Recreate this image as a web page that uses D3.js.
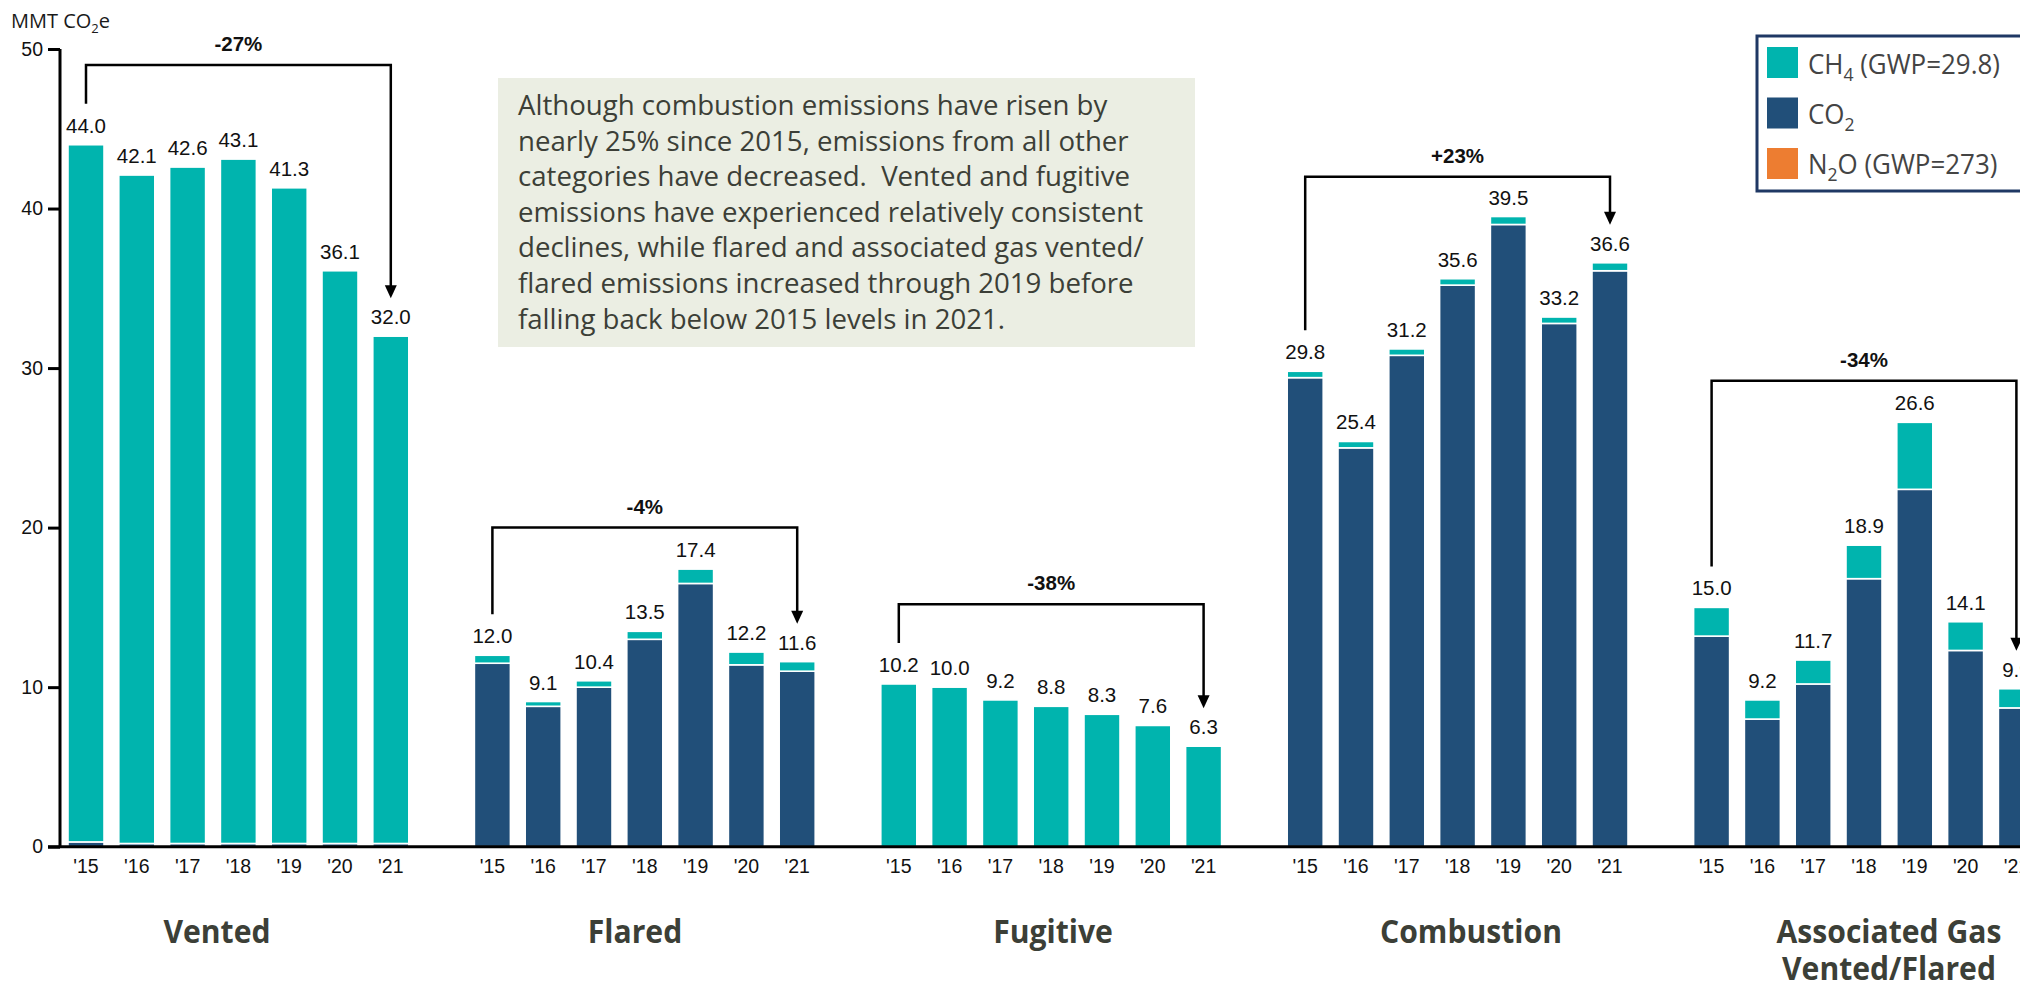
<!DOCTYPE html>
<html>
<head>
<meta charset="utf-8">
<script src="https://cdn.jsdelivr.net/npm/d3@7"></script>
<style>
  html, body { margin: 0; padding: 0; background: #fff; overflow: hidden; }
  svg { display: block; }
</style>
</head>
<body>
<svg id="chart" width="2020" height="984"></svg>
<script>
// ---------------- DATA ----------------
const years = ["'15", "'16", "'17", "'18", "'19", "'20", "'21"];
const categories = ["Vented", "Flared", "Fugitive", "Combustion", "Associated Gas|Vented/Flared"];

const ventedCO2  = [0.3, 0.2, 0.2, 0.2, 0.2, 0.2, 0.2];
const ventedCH4  = [43.7, 41.9, 42.4, 42.9, 41.1, 35.9, 31.8];
const flaredCO2  = [11.5, 8.8, 10.0, 13.0, 16.5, 11.4, 11.0];
const flaredCH4  = [0.5, 0.3, 0.4, 0.5, 0.9, 0.8, 0.6];
const fugitiveCO2 = [0, 0, 0, 0, 0, 0, 0];
const fugitiveCH4 = [10.2, 10.0, 9.2, 8.8, 8.3, 7.6, 6.3];
const combustionCO2 = [29.4, 25.0, 30.8, 35.2, 39.0, 32.8, 36.1];
const combustionCH4 = [0.4, 0.4, 0.4, 0.4, 0.5, 0.4, 0.5];
const assocCO2 = [13.2, 8.0, 10.2, 16.8, 22.4, 12.3, 8.7];
const assocCH4 = [1.8, 1.2, 1.5, 2.1, 4.2, 1.8, 1.2];
const n2oAll = [0, 0, 0, 0, 0, 0, 0];

const totalLabels = [
  ["44.0", "42.1", "42.6", "43.1", "41.3", "36.1", "32.0"],
  ["12.0", "9.1", "10.4", "13.5", "17.4", "12.2", "11.6"],
  ["10.2", "10.0", "9.2", "8.8", "8.3", "7.6", "6.3"],
  ["29.8", "25.4", "31.2", "35.6", "39.5", "33.2", "36.6"],
  ["15.0", "9.2", "11.7", "18.9", "26.6", "14.1", "9.9"]
];
const changeLabels = ["-27%", "-4%", "-38%", "+23%", "-34%"];
const bracketLevels = [49, 20, 15.2, 42, 29.2];
const yTicks = [0, 10, 20, 30, 40, 50];

const noteLines = [
  "Although combustion emissions have risen by",
  "nearly 25% since 2015, emissions from all other",
  "categories have decreased.  Vented and fugitive",
  "emissions have experienced relatively consistent",
  "declines, while flared and associated gas vented/",
  "flared emissions increased through 2019 before",
  "falling back below 2015 levels in 2021."
];

const co2Sets = [ventedCO2, flaredCO2, fugitiveCO2, combustionCO2, assocCO2];
const ch4Sets = [ventedCH4, flaredCH4, fugitiveCH4, combustionCH4, assocCH4];

// ---------------- STYLE ----------------
const C_CH4 = "#00b4ae", C_CO2 = "#214f79", C_N2O = "#ed7d31";
const TXT = "#3c3f37";
const NUMFONT = "'Liberation Sans', Arial, sans-serif";
const UIFONT = "'Open Sans', 'Noto Sans', sans-serif";

const svg = d3.select("#chart");
const W = 2020;

// table of rows
const rows = [];
categories.forEach((cat, g) => {
  years.forEach((yr, i) => {
    rows.push({ g, i, slot: g * 8 + i, yr, co2: co2Sets[g][i], ch4: ch4Sets[g][i], n2o: n2oAll[i], label: totalLabels[g][i] });
  });
});
const stack = d3.stack().keys(["co2", "ch4", "n2o"])(rows);
const colors = { co2: C_CO2, ch4: C_CH4, n2o: C_N2O };

const x = d3.scaleBand().domain(d3.range(40)).range([60.6, 60.6 + 40 * 50.8]).paddingInner(0.291).paddingOuter(0.1455);
const y = d3.scaleLinear().domain([0, 50]).range([846.7, 49]);
const total = d => d.co2 + d.ch4 + d.n2o;

// bars
svg.append("g").selectAll("g").data(stack).join("g")
  .attr("fill", s => colors[s.key])
  .selectAll("rect").data(s => s.filter(d => d[1] - d[0] > 0)).join("rect")
  .attr("x", d => x(d.data.slot))
  .attr("width", x.bandwidth())
  .attr("y", d => y(d[1]))
  .attr("height", d => y(d[0]) - y(d[1]))
  .attr("stroke", "#ffffff").attr("stroke-width", 1.6);

// value labels
svg.append("g").selectAll("text").data(rows).join("text")
  .attr("x", d => x(d.slot) + x.bandwidth() / 2)
  .attr("y", d => y(total(d)) - 12)
  .attr("text-anchor", "middle")
  .attr("font-family", NUMFONT).attr("font-size", 20.5).attr("fill", "#111")
  .text(d => d.label);

// x tick labels
svg.append("g").selectAll("text").data(rows).join("text")
  .attr("x", d => x(d.slot) + x.bandwidth() / 2)
  .attr("y", 873)
  .attr("text-anchor", "middle")
  .attr("font-family", NUMFONT).attr("font-size", 19.5).attr("fill", "#111")
  .text(d => d.yr);

// axes
const yAxis = d3.axisLeft(y).tickValues(yTicks).tickSize(12).tickPadding(5);
const ay = svg.append("g").attr("transform", "translate(60,0)").call(yAxis);
ay.select(".domain").attr("stroke", "#000").attr("stroke-width", 3).attr("d", `M0,${y(50)}V${y(0)}`);
ay.selectAll(".tick line").attr("stroke", "#000").attr("stroke-width", 3);
ay.selectAll(".tick text").attr("font-family", NUMFONT).attr("font-size", 19.5).attr("fill", "#111");

svg.append("line").attr("x1", 48).attr("x2", W).attr("y1", y(0)).attr("y2", y(0))
  .attr("stroke", "#000").attr("stroke-width", 3);

// axis title
const yt = svg.append("text").attr("x", 11).attr("y", 28)
  .attr("font-family", UIFONT).attr("font-size", 20).attr("fill", "#1a1a1a");
yt.append("tspan").text("MMT CO");
yt.append("tspan").attr("font-size", 13).attr("dy", 5).text("2");
yt.append("tspan").attr("dy", -5).text("e");

// brackets
const br = svg.append("g");
categories.forEach((cat, g) => {
  const s0 = g * 8, s6 = g * 8 + 6;
  const xl = x(s0) + x.bandwidth() / 2, xr = x(s6) + x.bandwidth() / 2;
  const yTop = y(bracketLevels[g]);
  const yL = y(total(rows[g * 7])) - 41;
  const yR = y(total(rows[g * 7 + 6])) - 38;
  br.append("path")
    .attr("d", `M${xl},${yL}V${yTop}H${xr}V${yR - 11}`)
    .attr("fill", "none").attr("stroke", "#000").attr("stroke-width", 2.5);
  br.append("path")
    .attr("d", `M${xr - 6},${yR - 13}L${xr + 6},${yR - 13}L${xr},${yR}Z`)
    .attr("fill", "#000");
  br.append("text").attr("x", (xl + xr) / 2).attr("y", yTop - 14)
    .attr("text-anchor", "middle").attr("font-family", NUMFONT)
    .attr("font-size", 20.5).attr("font-weight", "bold").attr("fill", "#111")
    .text(changeLabels[g]);
});

// helper: horizontally fit a selection about an anchor x
function squeeze(sel, factor, ax) {
  sel.attr("transform", `translate(${ax},0) scale(${factor},1) translate(${-ax},0)`);
}

// category labels
const labelX = d3.scaleLinear().domain([0, 4]).range([217, 1889]);
const catG = svg.append("g");
categories.forEach((cat, g) => {
  const parts = cat.split("|");
  const t = catG.append("text").attr("text-anchor", "middle")
    .attr("font-family", UIFONT).attr("font-weight", 700).attr("font-size", 32).attr("fill", TXT);
  parts.forEach((p, k) => {
    t.append("tspan").attr("x", labelX(g)).attr("y", 943 + k * 37).text(p);
  });
});
// fit based on "Combustion"
{
  const nodes = catG.selectAll("text").nodes();
  const w = nodes[3].getBBox().width;
  const f = 182 / w;
  catG.selectAll("text").each(function(d, i) {
    squeeze(d3.select(this), f, labelX(i));
  });
}

// note box
svg.append("rect").attr("x", 498).attr("y", 78).attr("width", 697).attr("height", 269).attr("fill", "#ebeee3");
const note = svg.append("g");
noteLines.forEach((ln, i) => {
  note.append("text").attr("x", 518).attr("y", 115 + i * 35.6)
    .attr("font-family", UIFONT).attr("font-size", 27).attr("fill", TXT)
    .style("white-space", "pre").attr("xml:space", "preserve").text(ln);
});
{
  let maxW = 0;
  note.selectAll("text").each(function() { maxW = Math.max(maxW, this.getBBox().width); });
  squeeze(note, 626 / maxW, 518);
}

// legend
svg.append("rect").attr("x", 1757).attr("y", 36).attr("width", 320).attr("height", 155)
  .attr("fill", "#fff").attr("stroke", "#1f3864").attr("stroke-width", 3);
const legendItems = [
  { color: C_CH4, main: "CH", sub: "4", rest: " (GWP=29.8)" },
  { color: C_CO2, main: "CO", sub: "2", rest: "" },
  { color: C_N2O, main: "N", sub: "2", rest: "O (GWP=273)" }
];
const lg = svg.append("g");
legendItems.forEach((it, i) => {
  lg.append("rect").attr("x", 1767).attr("y", 47 + i * 50.5).attr("width", 31).attr("height", 31).attr("fill", it.color);
  const t = lg.append("text").attr("class", "lt").attr("x", 1808).attr("y", 74 + i * 50)
    .attr("font-family", UIFONT).attr("font-size", 28).attr("fill", "#444");
  t.append("tspan").text(it.main);
  t.append("tspan").attr("font-size", 19).attr("dy", 7).text(it.sub);
  if (it.rest) t.append("tspan").attr("dy", -7).text(it.rest);
});
{
  const w0 = lg.select("text.lt").node().getBBox().width;
  lg.selectAll("text.lt").each(function() { squeeze(d3.select(this), 192 / w0, 1808); });
}
</script>
</body>
</html>
